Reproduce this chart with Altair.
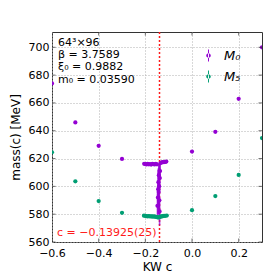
import altair as alt
import pandas as pd

# ---- data ----
sparse_c = [-0.6, -0.5, -0.4, -0.3, 0.0, 0.1, 0.2, 0.3]
sparse_m0 = [674.0, 646.0, 629.2, 619.7, 625.0, 639.2, 663.0, 700.0]
sparse_m5 = [624.5, 603.6, 589.4, 581.0, 582.9, 593.0, 608.2, 634.7]

dense_c_m0 = [-0.205, -0.2, -0.195, -0.19, -0.185, -0.18, -0.175, -0.17, -0.165, -0.16, -0.155, -0.15,
              -0.148, -0.146, -0.145, -0.144, -0.143, -0.142, -0.141, -0.140, -0.139, -0.138, -0.137,
              -0.135, -0.13, -0.125, -0.12, -0.115, -0.11]
dense_m0 = [616.2, 616.0, 615.8, 616.1, 615.9, 616.0, 615.7, 616.2, 616.0, 615.8, 616.1, 615.9,
            586.0, 592.0, 598.0, 603.0, 596.0, 608.0, 600.0, 590.0, 582.0, 606.0, 611.0,
            616.8, 617.2, 617.4, 617.5, 617.6, 617.8]
dense_e0 = [0.5, 0.5, 0.5, 0.5, 0.5, 0.5, 0.5, 0.5, 0.5, 0.5, 0.5, 0.6,
            9.0, 12.0, 14.0, 10.0, 16.0, 8.0, 15.0, 13.0, 10.0, 9.0, 6.0,
            0.7, 0.6, 0.5, 0.5, 0.5, 0.5]

dense_c_m5 = [-0.206, -0.2, -0.195, -0.19, -0.185, -0.18, -0.175, -0.17, -0.165, -0.16, -0.155, -0.15,
              -0.145, -0.14, -0.135, -0.13, -0.125, -0.12, -0.115, -0.108]
dense_m5 = [578.9, 578.7, 578.6, 578.5, 578.6, 578.4, 578.5, 578.3, 578.4, 578.2, 578.1, 577.9,
            577.6, 577.8, 578.2, 578.4, 578.6, 578.7, 578.8, 579.0]

c_crit = -0.13925
series_names = ["M\u2080", "M\u2085"]
series_colors = ["#9400d3", "#009e73"]
x_ticks = [-0.6, -0.4, -0.2, 0.0, 0.2]
y_ticks = [560, 580, 600, 620, 640, 660, 680, 700]
info_lines = ["64\u00b3\u00d796", "\u03b2 = 3.7589", "\u03be\u2080 = 0.9882", "m\u2080 = 0.03590"]
c_label = "c = \u22120.13925(25)"

rows = []
for c, m in zip(sparse_c, sparse_m0):
    rows.append({"series": series_names[0], "c": c, "mass": m, "err": 0.5})
for c, m, e in zip(dense_c_m0, dense_m0, dense_e0):
    rows.append({"series": series_names[0], "c": c, "mass": m, "err": e})
for c, m in zip(sparse_c, sparse_m5):
    rows.append({"series": series_names[1], "c": c, "mass": m, "err": 0.4})
for c, m in zip(dense_c_m5, dense_m5):
    rows.append({"series": series_names[1], "c": c, "mass": m, "err": 0.4})
df = pd.DataFrame(rows)
df["lo"] = df["mass"] - df["err"]
df["hi"] = df["mass"] + df["err"]

W, H = 210, 210
FONT = "DejaVu Sans"

xs = alt.Scale(domain=[-0.6, 0.3], nice=False, zero=False)
ys = alt.Scale(domain=[560, 711], nice=False, zero=False)
cs = alt.Scale(domain=series_names, range=series_colors)

xaxis = alt.Axis(values=x_ticks, format=".1f", title="KW c", grid=True, ticks=False, domain=False,
                 labelFontSize=11, titleFontSize=12, labelPadding=5, titlePadding=3,
                 labelOverlap=False, labelFlush=False,
                 gridDash=[1, 2], gridColor="#b0b0b0")
yaxis = alt.Axis(values=y_ticks, format="d", title="mass(c) [MeV]", grid=True, ticks=False, domain=False,
                 labelFontSize=11, titleFontSize=12, labelPadding=3, titlePadding=6,
                 labelOverlap=False, labelFlush=False,
                 gridDash=[1, 2], gridColor="#b0b0b0")


def X(field):
    return alt.X(field, type="quantitative", scale=xs, axis=xaxis)


def Y(field):
    return alt.Y(field, type="quantitative", scale=ys, axis=yaxis)


base = alt.Chart(df)

redline = alt.Chart(pd.DataFrame({"c": [c_crit]})).mark_rule(
    color="#ff1a1a", strokeDash=[2, 2], strokeWidth=1.5
).encode(x=X("c"))

err_layers = []
for name, col in zip(series_names, series_colors):
    err_layers.append(
        base.transform_filter(alt.datum.series == name)
        .mark_rule(strokeWidth=1.6, opacity=0.75, clip=True, color=col)
        .encode(x=X("c"), y=Y("lo"), y2="hi")
    )

sym = ("M-0.08,-1L0.08,-1L0.08,1L-0.08,1Z"
       "M-0.38,0A0.38,0.38,0,1,0,0.38,0A0.38,0.38,0,1,0,-0.38,0Z")
leg = alt.Legend(title=None, orient="none", legendX=150, legendY=17, symbolType=sym, symbolSize=144,
                 symbolStrokeWidth=0, labelFontSize=13, labelFontStyle="italic", labelFont=FONT,
                 labelOffset=9, rowPadding=7, padding=0)

pts = base.mark_point(filled=True, size=18, opacity=1, clip=True).encode(
    x=X("c"),
    y=Y("mass"),
    color=alt.Color("series:N", scale=cs, legend=leg),
)

tx = pd.DataFrame({"v": x_ticks})
ty = pd.DataFrame({"v": y_ticks})
tick_col = "#333333"
t_bottom = alt.Chart(tx).mark_tick(size=7, thickness=1, color=tick_col, clip=True).encode(
    x=X("v"), y=alt.value(H))
t_top = alt.Chart(tx).mark_tick(size=7, thickness=1, color=tick_col, clip=True).encode(
    x=X("v"), y=alt.value(0))
t_left = alt.Chart(ty).mark_tick(size=7, thickness=1, color=tick_col, clip=True).encode(
    y=Y("v"), x=alt.value(0))
t_right = alt.Chart(ty).mark_tick(size=7, thickness=1, color=tick_col, clip=True).encode(
    y=Y("v"), x=alt.value(W))

one = pd.DataFrame({"k": [0]})
info = alt.Chart(one).mark_text(
    text=info_lines, align="left", baseline="top", fontSize=11, lineHeight=12.2,
    font=FONT, color="black"
).encode(x=alt.value(6), y=alt.value(5))

clab = alt.Chart(one).mark_text(
    text=c_label, align="left", baseline="alphabetic", fontSize=11, font=FONT, color="#ff1a1a"
).encode(x=alt.value(5), y=alt.value(204))

chart = alt.layer(redline, *err_layers, pts, t_bottom, t_top, t_left, t_right, info, clab).properties(
    width=W, height=H,
    autosize=alt.AutoSizeParams(type="none"),
    padding={"left": 44, "top": 24, "right": 5, "bottom": 30},
).configure_view(stroke="#333333", strokeWidth=1).configure_axis(
    labelFont=FONT, titleFont=FONT, labelColor="black", titleColor="black", titleFontWeight="normal"
).configure_legend(labelFont=FONT)

chart.save("out.html", embed_options={"renderer": "svg", "actions": False})
